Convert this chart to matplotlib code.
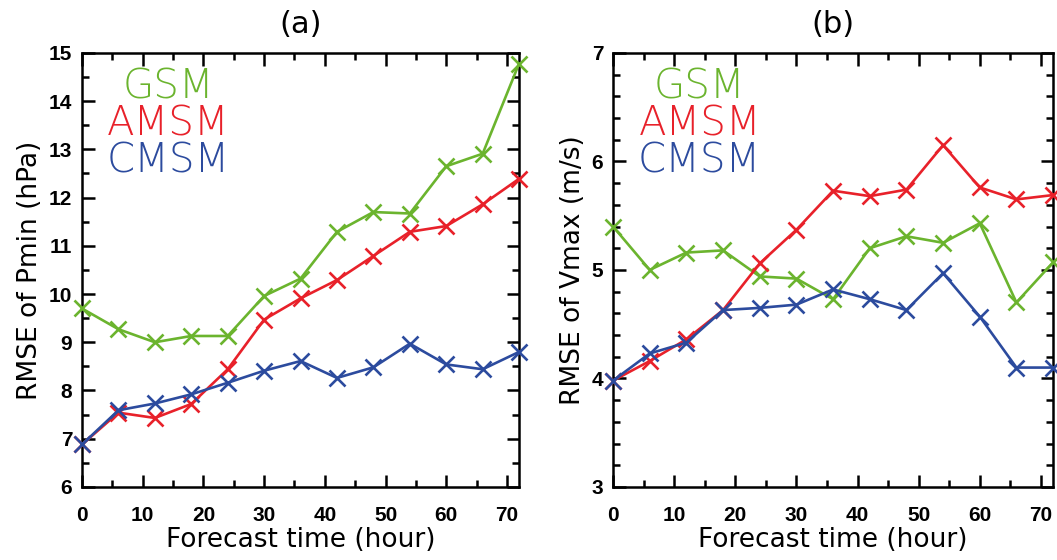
import numpy as np
import matplotlib
matplotlib.use("Agg")
import matplotlib.pyplot as plt
from matplotlib.ticker import MultipleLocator

# forecast lead times (hour)
hours = [0, 6, 12, 18, 24, 30, 36, 42, 48, 54, 60, 66, 72]

# (a) RMSE of Pmin (hPa)
pmin_gsm = [9.70, 9.27, 9.00, 9.13, 9.13, 9.96, 10.32, 11.29, 11.70, 11.67, 12.65, 12.91, 14.78]
pmin_amsm = [6.88, 7.54, 7.43, 7.72, 8.44, 9.47, 9.91, 10.29, 10.79, 11.29, 11.41, 11.86, 12.39]
pmin_cmsm = [6.88, 7.59, 7.73, 7.92, 8.16, 8.41, 8.61, 8.26, 8.48, 8.97, 8.54, 8.44, 8.80]

# (b) RMSE of Vmax (m/s)
vmax_gsm = [5.40, 5.00, 5.16, 5.18, 4.94, 4.92, 4.73, 5.20, 5.31, 5.25, 5.43, 4.70, 5.07]
vmax_amsm = [3.98, 4.16, 4.36, 4.63, 5.06, 5.37, 5.73, 5.68, 5.74, 6.15, 5.76, 5.65, 5.69]
vmax_cmsm = [3.98, 4.23, 4.33, 4.63, 4.65, 4.68, 4.82, 4.73, 4.63, 4.97, 4.57, 4.10, 4.10]

names = ["GSM", "AMSM", "CMSM"]
colors = ["#6bb42e", "#e8212a", "#2c4b9e"]

fig = plt.figure(figsize=(10.57, 5.6), dpi=100)
ax_a = fig.add_axes([0.0776, 0.1305, 0.4135, 0.775])
ax_b = fig.add_axes([0.5800, 0.1305, 0.4163, 0.775])

panels = [
    (ax_a, [pmin_gsm, pmin_amsm, pmin_cmsm], (6, 15), 0.5, "RMSE of Pmin (hPa)", "(a)"),
    (ax_b, [vmax_gsm, vmax_amsm, vmax_cmsm], (3, 7), 0.2, "RMSE of Vmax (m/s)", "(b)"),
]

for ax, series, ylim, yminor, ylabel, title in panels:
    for vals, c in zip(series, colors):
        ax.plot(hours, vals, color=c, lw=1.9, marker="x", ms=12, mew=1.9, clip_on=False, zorder=3)
    ax.set_xlim(0, 72)
    ax.set_ylim(*ylim)
    ax.xaxis.set_major_locator(MultipleLocator(10))
    ax.xaxis.set_minor_locator(MultipleLocator(5))
    ax.yaxis.set_major_locator(MultipleLocator(1))
    ax.yaxis.set_minor_locator(MultipleLocator(yminor))
    ax.tick_params(which="both", direction="in", top=True, right=True, width=1.8)
    ax.tick_params(which="major", length=9, labelsize=15, pad=7)
    ax.tick_params(axis="x", which="major", pad=14)
    ax.tick_params(which="minor", length=5)
    for lab in ax.get_xticklabels() + ax.get_yticklabels():
        lab.set_fontfamily("Liberation Sans")
        lab.set_fontweight("bold")
    for sp in ax.spines.values():
        sp.set_linewidth(1.8)
    ax.set_xlabel("Forecast time (hour)", fontsize=19, labelpad=1)
    ax.set_ylabel(ylabel, fontsize=19, labelpad=4)
    ax.set_title(title, fontsize=22, pad=14)
    for i, (n, c) in enumerate(zip(names, colors)):
        ax.text(0.197, 0.922 - 0.085 * i, n, color=c, fontsize=29, fontweight="light",
                ha="center", va="center", transform=ax.transAxes)

fig.savefig("out.png", dpi=100)
